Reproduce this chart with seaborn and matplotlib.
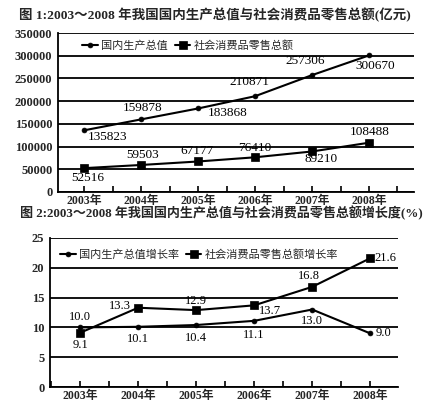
import matplotlib
matplotlib.use("Agg")
import matplotlib.pyplot as plt
import numpy as np
import pandas as pd
import seaborn as sns
from matplotlib.ticker import MultipleLocator, FuncFormatter

years = ["2003年", "2004年", "2005年", "2006年", "2007年", "2008年"]
gdp = [135823, 159878, 183868, 210871, 257306, 300670]
retail = [52516, 59503, 67177, 76410, 89210, 108488]
gdp_growth = [10.0, 10.1, 10.4, 11.1, 13.0, 9.0]
retail_growth = [9.1, 13.3, 12.9, 13.7, 16.8, 21.6]

title1 = "图 1:2003～2008 年我国国内生产总值与社会消费品零售总额(亿元)"
title2 = "图 2:2003～2008 年我国国内生产总值与社会消费品零售总额增长度(%)"
gdp_name = "国内生产总值"
retail_name = "社会消费品零售总额"
gdp_growth_name = "国内生产总值增长率"
retail_growth_name = "社会消费品零售总额增长率"

sns.set_style("white")
plt.rcParams["font.family"] = ["Liberation Serif", "Noto Sans CJK SC", "DejaVu Sans"]

df1 = pd.DataFrame({"pos": range(len(years)), "gdp": gdp, "retail": retail})
df2 = pd.DataFrame({"pos": range(len(years)), "gdp": gdp_growth, "retail": retail_growth})

fig = plt.figure(figsize=(4.25, 4.09), dpi=100)
ax1 = fig.add_axes([58 / 425, 1 - 192 / 409, 356 / 425, 159 / 409])
ax2 = fig.add_axes([50 / 425, 1 - 387 / 409, 348 / 425, 149 / 409])


def style_axis(ax, xlim, ylim, ystep):
    ax.set_xlim(xlim)
    ax.set_ylim(ylim)
    ax.yaxis.set_major_locator(MultipleLocator(ystep))
    ax.yaxis.set_major_formatter(FuncFormatter(lambda v, p: f"{int(round(v))}"))
    ax.yaxis.grid(True, color="black", lw=1.3)
    ax.set_axisbelow(True)
    for s in ["top", "right"]:
        ax.spines[s].set_visible(False)
    for s in ["left", "bottom"]:
        ax.spines[s].set_color("black")
        ax.spines[s].set_linewidth(1.3)
    ax.set_xticks(range(len(years)))
    ax.set_xticklabels(years, fontsize=8.5, fontweight="bold")
    ax.xaxis.set_minor_locator(MultipleLocator(0.5))
    ax.tick_params(axis="x", which="both", direction="in", length=4, width=1.2,
                   color="black", pad=2, bottom=True)
    ax.tick_params(axis="y", length=0, labelsize=9, pad=4)
    for t in ax.get_yticklabels():
        t.set_fontweight("bold")
    ax.set_xlabel("")
    ax.set_ylabel("")


def draw_lines(ax, df, n1, n2):
    sns.lineplot(data=df, x="pos", y="gdp", ax=ax, color="black", lw=1.5,
                 marker="o", markersize=3.5, markeredgewidth=0.5,
                 markeredgecolor="black", label=n1)
    sns.lineplot(data=df, x="pos", y="retail", ax=ax, color="black", lw=1.5,
                 marker="s", markersize=5.5, markeredgewidth=0.5,
                 markeredgecolor="black", label=n2)


def put(ax, x, y, txt, dx, dy, size):
    # dx, dy are label-centre offsets in pixels (y up)
    ax.annotate(txt, (x, y), xytext=(dx * 0.72, dy * 0.72), textcoords="offset points",
                ha="center", va="center", fontsize=size, color="black")


# chart 1
draw_lines(ax1, df1, gdp_name, retail_name)
style_axis(ax1, (-0.46, 5.79), (0, 350000), 50000)
ax1.legend(loc="upper left", bbox_to_anchor=(0.05, 1.0), ncol=2, frameon=False,
           fontsize=8, handlelength=1.4, columnspacing=0.6, handletextpad=0.3,
           borderaxespad=0.2)

g_off = [(23, -7), (1, 11), (30, -5), (-6, 14), (-7, 14), (6, -11)]
r_off = [(4, -10), (1, 10), (-1, 10), (0, 9), (9, -8), (1, 11)]
for i in range(len(years)):
    put(ax1, i, gdp[i], str(gdp[i]), *g_off[i], size=9.5)
    put(ax1, i, retail[i], str(retail[i]), *r_off[i], size=9.5)

# chart 2
draw_lines(ax2, df2, gdp_growth_name, retail_growth_name)
style_axis(ax2, (-0.52, 5.48), (0, 25), 5)
ax2.legend(loc="upper left", bbox_to_anchor=(0.01, 0.97), ncol=2, frameon=False,
           fontsize=8, handlelength=1.4, columnspacing=0.6, handletextpad=0.3,
           borderaxespad=0.2)

g2_off = [(0, 10), (0, -12), (0, -13), (0, -14), (0, -11), (13, 0)]
r2_off = [(0, -12), (-18, 2), (0, 9), (16, -6), (-3, 11), (15, 0)]
for i in range(len(years)):
    put(ax2, i, gdp_growth[i], f"{gdp_growth[i]:.1f}", *g2_off[i], size=9)
    put(ax2, i, retail_growth[i], f"{retail_growth[i]:.1f}", *r2_off[i], size=9)

fig.text(215 / 425, 1 - 15 / 409, title1, ha="center", va="center", fontsize=9.7,
         fontweight="bold")
fig.text(221 / 425, 1 - 213 / 409, title2, ha="center", va="center", fontsize=9.4,
         fontweight="bold")

fig.savefig("out.png", dpi=100)
